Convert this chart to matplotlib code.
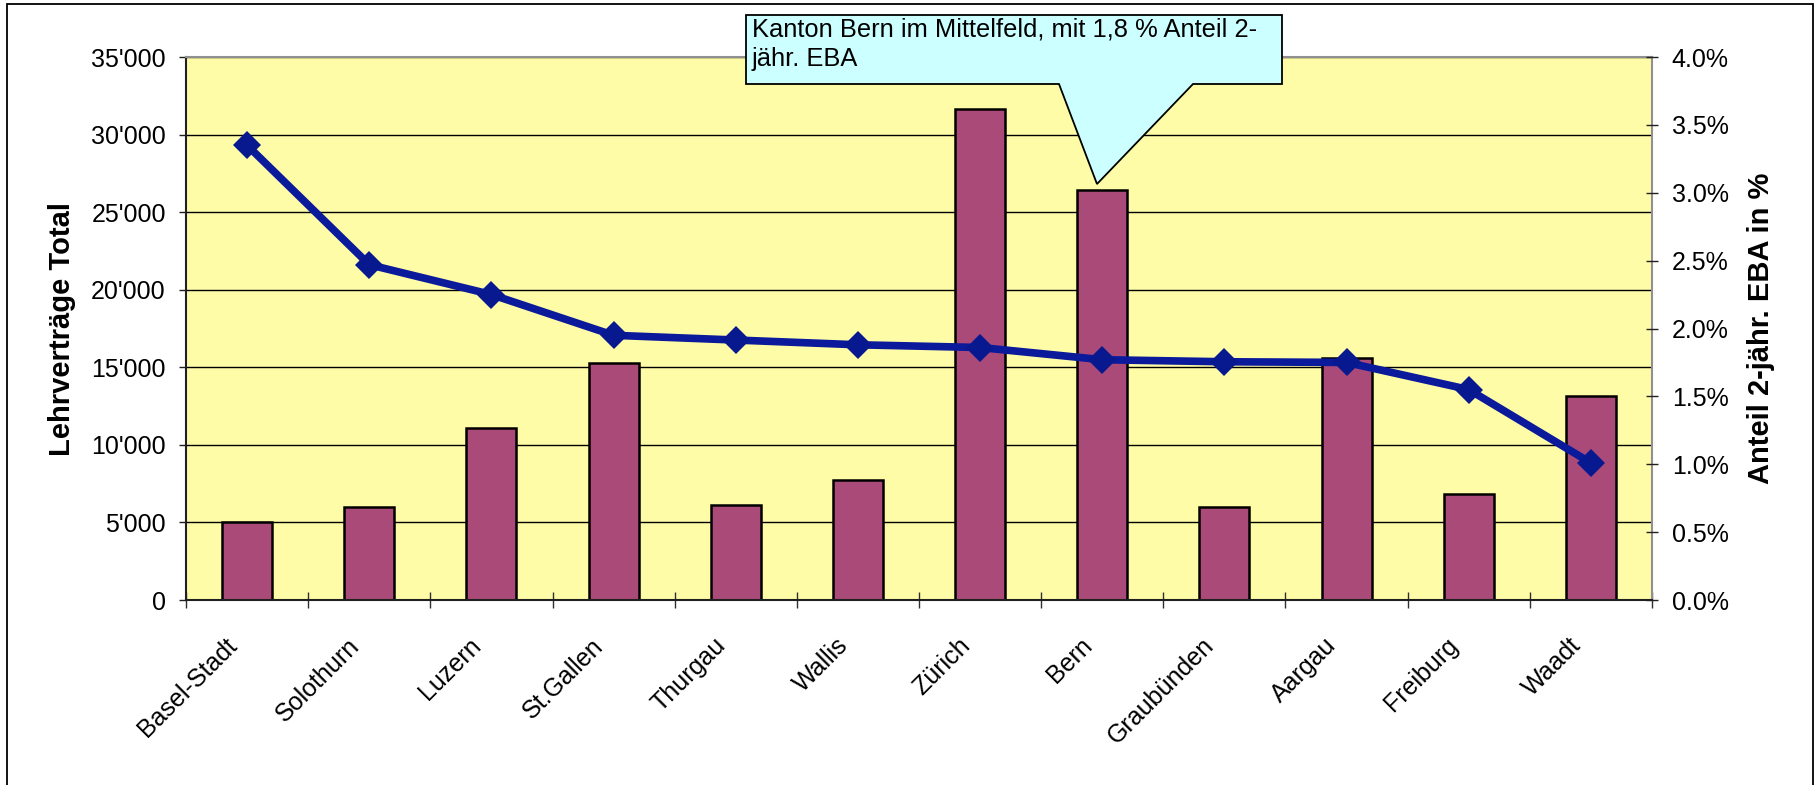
import numpy as np
import matplotlib
matplotlib.use('Agg')
import matplotlib.pyplot as plt
from matplotlib.patches import Polygon, Rectangle
from matplotlib.ticker import FuncFormatter, FixedLocator
from matplotlib.transforms import ScaledTranslation

kantone = ['Basel-Stadt', 'Solothurn', 'Luzern', 'St.Gallen', 'Thurgau', 'Wallis',
           'Zürich', 'Bern', 'Graubünden', 'Aargau', 'Freiburg', 'Waadt']
lehrvertraege = [5050, 5980, 11070, 15260, 6130, 7740, 31640, 26430, 5980, 15580, 6810, 13150]
anteil_eba = [3.35, 2.47, 2.25, 1.95, 1.915, 1.88, 1.86, 1.77, 1.755, 1.75, 1.55, 1.01]
callout_text = 'Kanton Bern im Mittelfeld, mit 1,8 % Anteil 2-\njähr. EBA'

plt.rcParams['font.family'] = ['Liberation Sans', 'DejaVu Sans']

W, H = 1814, 785
fig = plt.figure(figsize=(W / 100, H / 100), dpi=100)
fig.patch.set_facecolor('white')

# axes box in pixels: left 186, right 1652, top 57, bottom 600
ax = fig.add_axes([186 / W, 1 - 600 / H, (1652 - 186) / W, (600 - 57) / H])
ax.set_facecolor('#FFFCA8')

x = np.arange(len(kantone))
ax.bar(x, lehrvertraege, width=0.41, color='#AA4A78', edgecolor='black', linewidth=1.8, zorder=2)
ax.set_xlim(-0.5, len(kantone) - 0.5)
ax.set_ylim(0, 35000)
ax.set_yticks(np.arange(0, 35001, 5000))
ax.yaxis.set_major_formatter(FuncFormatter(lambda v, p: f"{int(v):,}".replace(',', "'")))
ax.yaxis.grid(True, color='black', linewidth=1.0)
ax.set_axisbelow(True)

# category ticks sit between the bars, names are placed by hand (rotated, shifted a bit left)
ax.set_xticks([])
ax.xaxis.set_minor_locator(FixedLocator(np.arange(-0.5, len(kantone), 1.0)))
ax.tick_params(axis='x', which='minor', direction='inout', length=11, width=1, color='#303030')
lab_tr = ax.get_xaxis_transform() + ScaledTranslation(-14 / 100, -42 / 100, fig.dpi_scale_trans)
for i, name in enumerate(kantone):
    ax.text(x[i], 0, name, transform=lab_tr, rotation=45, ha='right', va='center',
            rotation_mode='anchor', fontsize=18)

ax.tick_params(axis='y', direction='out', length=5, width=1, pad=9.5, labelsize=18, color='#202020')

for s in ['left', 'bottom']:
    ax.spines[s].set_color('#202020')
    ax.spines[s].set_linewidth(1.5)
for s in ['top', 'right']:
    ax.spines[s].set_color('#909090')
    ax.spines[s].set_linewidth(1.5)

ax.set_ylabel('Lehrverträge Total', fontsize=21, fontweight='bold')
ax.yaxis.set_label_coords(-0.075, 0.5)

ax2 = ax.twinx()
ax2.plot(x, anteil_eba, color='#0A1A9A', linewidth=5.5, marker='D', markersize=14,
         markerfacecolor='#08188E', markeredgewidth=0, zorder=3)
ax2.set_ylim(0, 4)
ax2.set_yticks(np.arange(0, 4.01, 0.5))
ax2.yaxis.set_major_formatter(FuncFormatter(lambda v, p: f"{v:.1f}%"))
ax2.tick_params(axis='y', direction='inout', length=8.6, width=1, pad=10, labelsize=18, color='#202020')
for s in ax2.spines.values():
    s.set_visible(False)
ax2.set_ylabel('Anteil 2-jähr. EBA in %', fontsize=21, fontweight='bold')
ax2.yaxis.set_label_coords(1.0648, 0.5)

# callout box with pointer towards Bern
def fx(px):
    return px / W

def fy(py):
    return 1 - py / H

pts = [(746, 15), (1282, 15), (1282, 84), (1193, 84), (1097, 184), (1059, 84), (746, 84)]
callout = Polygon([(fx(a), fy(b)) for a, b in pts], closed=True, transform=fig.transFigure,
                  facecolor='#CCFFFF', edgecolor='black', linewidth=1.3, zorder=10)
fig.patches.append(callout)
fig.text(fx(752), fy(18), callout_text, fontsize=18.4, ha='left', va='top', zorder=11,
         linespacing=1.25)

# outer frame
frame = Rectangle((fx(7), -0.02), fx(1813) - fx(7), fy(4) + 0.02, transform=fig.transFigure,
                  fill=False, edgecolor='black', linewidth=1.3)
fig.patches.append(frame)

fig.savefig('out.png', dpi=100)
